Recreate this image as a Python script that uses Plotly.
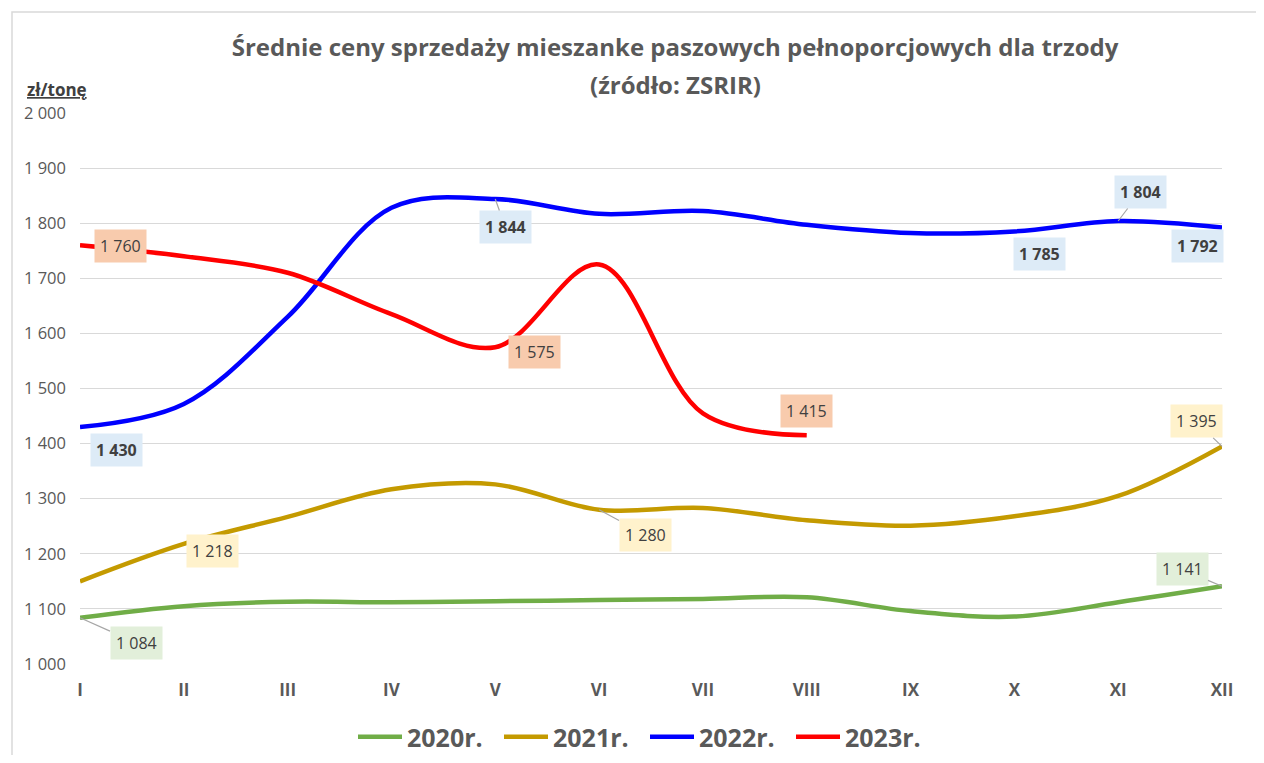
import plotly.graph_objects as go

months = ["I", "II", "III", "IV", "V", "VI", "VII", "VIII", "IX", "X", "XI", "XII"]
y2020 = [1084, 1105, 1113, 1112, 1114, 1116, 1118, 1121, 1096, 1086, 1112, 1141]
y2021 = [1150, 1218, 1267, 1317, 1326, 1280, 1283, 1261, 1251, 1268, 1305, 1395]
y2022 = [1430, 1472, 1630, 1828, 1844, 1817, 1822, 1797, 1782, 1785, 1804, 1792]
y2023 = [1760, 1740, 1710, 1635, 1575, 1725, 1455, 1415]
series_names = ["2020r.", "2021r.", "2022r.", "2023r."]
y_ticks = [1000, 1100, 1200, 1300, 1400, 1500, 1600, 1700, 1800, 1900, 2000]

colors = ["#70AD47", "#C49A00", "#0000FF", "#FF0000"]
box_colors = ["#E2EFDA", "#FFF2CC", "#DDEBF7", "#F8CBAD"]
series = [y2020, y2021, y2022, y2023]

def fmt(v):
    return f"{v:,}".replace(",", " ")

fig = go.Figure()
for name, ys, c in zip(series_names, series, colors):
    fig.add_trace(go.Scatter(
        x=months[:len(ys)], y=ys, name=name, mode="lines",
        line=dict(color=c, width=4.5, shape="spline", smoothing=1.0),
        hoverinfo="skip",
    ))

# data labels: (series index, month index, ax, ay, leader, bold)
labels = [
    (0, 0, 56, 25, True, False),
    (0, 11, -40, -17, True, False),
    (1, 1, 29, 7, False, False),
    (1, 5, 46, 25, True, False),
    (1, 11, -26, -25, True, False),
    (2, 0, 36, 23, False, True),
    (2, 4, 10, 28, True, True),
    (2, 9, 25, 23, False, True),
    (2, 10, 22, -29, True, True),
    (2, 11, -25, 18, False, True),
    (3, 0, 40, 1, False, False),
    (3, 4, 39, 5, False, False),
    (3, 7, 0, -24, False, False),
]
annotations = []
for si, mi, ax, ay, leader, bold in labels:
    v = series[si][mi]
    txt = fmt(v)
    if bold:
        txt = "<b>" + txt + "</b>"
    common = dict(
        x=months[mi], y=v, xref="x", yref="y", text=txt,
        font=dict(family="Open Sans", size=16, color="#404040"),
        bgcolor=box_colors[si], borderpad=5,
    )
    if leader:
        annotations.append(dict(**common, showarrow=True, arrowhead=0, arrowwidth=1.2,
                                arrowcolor="#A6A6A6", ax=ax, ay=ay, standoff=0))
    else:
        annotations.append(dict(**common, showarrow=False, xshift=ax, yshift=-ay))

annotations.append(dict(
    text="<b><u>zł/tonę</u></b>", xref="paper", yref="paper",
    x=(25 - 80) / 1142, y=(664 - 89) / 551, xanchor="left", yanchor="middle",
    showarrow=False, font=dict(family="Open Sans", size=17, color="#404040"),
))
annotations.append(dict(
    text="<b>(źródło: ZSRIR)</b>", xref="paper", yref="paper",
    x=(675 - 80) / 1142, y=(664 - 84) / 551, xanchor="center", yanchor="middle",
    showarrow=False, font=dict(family="Open Sans", size=24, color="#595959"),
))

# page body adds an 8px offset; figure sized so the page fits the window exactly
W, H = 1256, 747
fig.update_layout(
    width=W, height=H,
    margin=dict(l=72, r=42, t=105, b=91),
    paper_bgcolor="white", plot_bgcolor="white",
    separators=", ",
    title=dict(
        text="<b>Średnie ceny sprzedaży mieszanke paszowych pełnoporcjowych dla trzody</b>",
        x=(675 - 8) / W, xanchor="center", y=1 - 40 / H, yanchor="middle",
        font=dict(family="Open Sans", size=24, color="#595959"),
    ),
    xaxis=dict(
        type="category", range=[0, 11], showgrid=False, zeroline=False, automargin=False,
        showline=False, ticks="", ticklabelstandoff=14,
        tickfont=dict(family="Open Sans", size=17, color="#595959", weight="bold"),
    ),
    yaxis=dict(
        range=[1000, 2000], tickvals=y_ticks, tickformat=",d", automargin=False,
        showgrid=True, gridcolor="#D9D9D9", gridwidth=1, zeroline=False, showline=False,
        tickfont=dict(family="Open Sans", size=16.5, color="#595959"), ticklabelstandoff=13,
    ),
    legend=dict(
        orientation="h", xref="container", x=(645 - 8) / W, xanchor="center",
        yref="container", y=1 - (737 - 8) / H, yanchor="middle",
        font=dict(family="Open Sans", size=25, color="#595959", weight="bold"),
        itemwidth=44, traceorder="normal", entrywidth=87, entrywidthmode="pixels",
    ),
    annotations=annotations,
    shapes=[dict(type="rect", xref="paper", yref="paper",
                 x0=(12 - 80) / 1142, x1=(1275 - 80) / 1142,
                 y0=(664 - 775) / 551, y1=(664 - 12) / 551,
                 line=dict(color="#D9D9D9", width=1.5), layer="below")],
    showlegend=True,
)

fig.write_html("out.html")
